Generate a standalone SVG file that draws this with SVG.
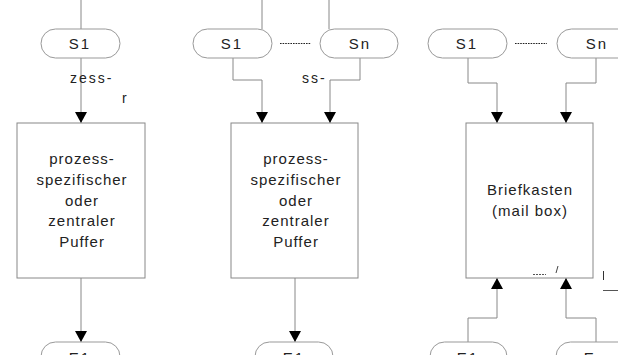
<svg xmlns="http://www.w3.org/2000/svg" width="618" height="355" viewBox="0 0 618 355">
<style>
.ln{fill:none;stroke:#888;stroke-width:1}
.ar{fill:none;stroke:#888;stroke-width:1;marker-end:url(#ah)}
.st{fill:#fff;stroke:#999;stroke-width:1}
.bx{fill:#fff;stroke:#888;stroke-width:1}
.t{font-family:"Liberation Sans",Arial,sans-serif;font-size:15px;fill:#222;letter-spacing:1px;text-anchor:middle}
.n{font-family:"Liberation Sans",Arial,sans-serif;font-size:15px;fill:#222;letter-spacing:2px;text-anchor:middle}
.s{font-family:"Liberation Sans",Arial,sans-serif;font-size:14px;fill:#222;letter-spacing:2px}
.d{fill:none;stroke:#222;stroke-width:1.2;stroke-dasharray:1.6 1}
</style>
<defs>
<marker id="ah" markerUnits="userSpaceOnUse" markerWidth="12" markerHeight="12" viewBox="0 0 12 12" refX="11" refY="6" orient="auto">
<path d="M0,0 L11,6 L0,12 Z" fill="#000"/>
</marker>
</defs>
<g id="connectors">
<line class="ln" x1="81" y1="0" x2="81" y2="29"/>
<line class="ar" x1="81" y1="58" x2="81" y2="123"/>
<line class="ar" x1="81" y1="278" x2="81" y2="342"/>
<line class="ln" x1="81" y1="207" x2="81" y2="212"/>
<line class="ln" x1="262" y1="0" x2="262" y2="29"/>
<line class="ln" x1="329" y1="0" x2="329" y2="29"/>
<line class="d" x1="280" y1="43.5" x2="311" y2="43.5"/>
<polyline class="ar" points="233,58 233,80 262,80 262,123"/>
<polyline class="ar" points="360,58 360,80 330,80 330,123"/>
<line class="ar" x1="295" y1="278" x2="295" y2="342"/>
<line class="d" x1="515" y1="43.5" x2="547" y2="43.5"/>
<polyline class="ar" points="468,58 468,83 497,83 497,123"/>
<polyline class="ar" points="596,58 596,83 566,83 566,123"/>
<polyline class="ar" points="468,342 468,318 497,318 497,278"/>
<polyline class="ar" points="596,342 596,318 566,318 566,278"/>
</g>
<g id="p1-s1"><rect class="st" x="41" y="29" width="79" height="29" rx="14.5"/><text class="n" x="80" y="49">S1</text></g>
<g id="p1-buffer"><rect class="bx" x="17" y="123" width="128" height="155"/>
<text class="t" x="82" y="164">prozess-</text><text class="t" x="82" y="185">spezifischer</text><text class="t" x="82" y="206">oder</text><text class="t" x="82" y="226">zentraler</text><text class="t" x="82" y="247">Puffer</text></g>
<g id="p1-e1"><rect class="st" x="41" y="342" width="79" height="29" rx="14.5"/><text class="n" x="80" y="363">E1</text></g>
<g id="p1-labels"><text class="s" x="70" y="83">zess-</text><text class="s" x="122" y="103">r</text></g>
<g id="p2-s1"><rect class="st" x="193" y="29" width="79" height="29" rx="14.5"/><text class="n" x="232" y="49">S1</text></g>
<g id="p2-sn"><rect class="st" x="320" y="29" width="78" height="29" rx="14.5"/><text class="n" x="360" y="49">Sn</text></g>
<g id="p2-buffer"><rect class="bx" x="231" y="123" width="127" height="155"/>
<text class="t" x="296" y="164">prozess-</text><text class="t" x="296" y="185">spezifischer</text><text class="t" x="296" y="206">oder</text><text class="t" x="296" y="226">zentraler</text><text class="t" x="296" y="247">Puffer</text></g>
<g id="p2-e1"><rect class="st" x="255" y="342" width="78" height="29" rx="14.5"/><text class="n" x="294" y="363">E1</text></g>
<g id="p2-labels"><text class="s" x="302" y="83">ss-</text></g>
<g id="p3-s1"><rect class="st" x="428" y="29" width="79" height="29" rx="14.5"/><text class="n" x="467" y="49">S1</text></g>
<g id="p3-sn"><rect class="st" x="557" y="29" width="78" height="29" rx="14.5"/><text class="n" x="597" y="49">Sn</text></g>
<g id="p3-mailbox"><rect class="bx" x="466" y="123" width="127" height="155"/>
<text class="t" x="530" y="195">Briefkasten</text><text class="t" x="530" y="216">(mail box)</text></g>
<g id="p3-e1"><rect class="st" x="430" y="342" width="77" height="29" rx="14.5"/><text class="n" x="468" y="363">E1</text></g>
<g id="p3-em"><rect class="st" x="556" y="342" width="78" height="29" rx="14.5"/><text class="n" x="597" y="363">Em</text></g>
<g id="p3-marks">
<line x1="533" y1="274.5" x2="546" y2="274.5" stroke="#555" stroke-width="1" stroke-dasharray="2 1"/>
<line x1="556" y1="273" x2="558" y2="266" stroke="#444" stroke-width="1"/>
<line x1="603.5" y1="271" x2="603.5" y2="280" stroke="#333" stroke-width="1"/>
<line x1="603" y1="290.5" x2="618" y2="290.5" stroke="#555" stroke-width="1"/>
</g>
</svg>
